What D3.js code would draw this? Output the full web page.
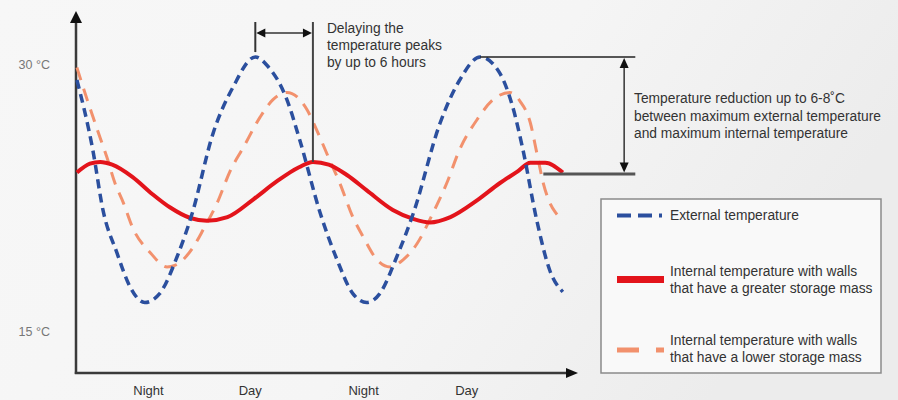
<!DOCTYPE html>
<html><head><meta charset="utf-8">
<script src="https://cdn.jsdelivr.net/npm/d3@7"></script>
<style>html,body{margin:0;padding:0;background:#f4f4f4;} svg{display:block;}</style>
</head><body>
<svg id="chart" width="898" height="400"></svg>
<script>
// ---------- data (hours on x, °C on y) ----------
const extHours = [0.1,1.8,2.9,4.4,5.8,7.4,9.0,10.9,12.5,14.75,16.9,19.3,20.6,22.7,24.1,26.3,28.1,29.8,31.3,32.7,34.55,36.3,39.2,41.3,43.5,45.6,47.0,48.1,49.6,51.0,52.4];
const extTemp  = [29.1,25.2,21.8,19.4,17.5,16.6,17.1,19.2,21.6,26.1,28.7,30.4,29.9,28.0,25.7,21.6,19.0,17.1,16.6,17.1,19.2,21.6,26.7,29.1,30.4,29.5,27.6,25.2,21.2,18.4,17.2];

const highMassHours = [0.1,1.5,2.6,3.9,6.1,8.2,10.1,12.3,14.1,16.3,19.1,21.6,24.0,25.5,27.2,29.2,31.3,34.1,36.3,38.1,40.3,43.2,45.6,47.5,48.9,50.5,52.4];
const highMassTemp  = [23.9,24.4,24.5,24.35,23.65,22.7,21.95,21.35,21.2,21.4,22.4,23.4,24.2,24.5,24.35,23.75,22.9,21.8,21.3,21.1,21.4,22.35,23.3,23.95,24.45,24.45,23.9];

const lowMassHours = [0.1,1.2,2.3,3.3,4.2,5.1,6.1,8.0,9.8,10.7,12.6,13.7,15.2,16.6,18.0,19.8,21.2,22.7,23.8,24.9,25.9,27.3,28.4,29.8,30.9,32.4,33.8,35.2,36.7,38.4,39.9,41.3,43.2,44.9,46.7,47.8,48.9,49.6,50.3,51.0,51.7,52.4];
const lowMassTemp  = [29.8,28.0,26.3,24.8,23.3,22.2,20.8,19.4,18.6,18.7,19.7,20.7,22.2,24.0,25.3,27.0,28.0,28.4,28.15,27.4,26.3,24.6,23.3,21.4,20.3,19.0,18.6,19.0,19.9,21.6,23.3,25.2,26.9,28.0,28.4,27.9,26.7,25.0,23.3,22.2,21.6,21.2];

const yTickValues = [15, 30];
const xTickHours  = [7.75, 18.7, 30.9, 42.0];
const xTickLabels = ["Night", "Day", "Night", "Day"];

const legendLabels = [
  ["External temperature"],
  ["Internal temperature with walls", "that have a greater storage mass"],
  ["Internal temperature with walls", "that have a lower storage mass"]
];
const noteDelay = ["Delaying the", "temperature peaks", "by up to 6 hours"];
const noteReduction = ["Temperature reduction up to 6-8˚C", "between maximum external temperature", "and maximum internal temperature"];

// ---------- setup ----------
const W = 898, H = 400;
const FONT = "'Liberation Sans', Arial, sans-serif";
const svg = d3.select("#chart");

const defs = svg.append("defs");
const bg = defs.append("linearGradient").attr("id","bg").attr("x1","0").attr("y1","0").attr("x2","1").attr("y2","0.3");
bg.append("stop").attr("offset","0").attr("stop-color","#f7f7f7");
bg.append("stop").attr("offset","0.6").attr("stop-color","#f5f5f5");
bg.append("stop").attr("offset","1").attr("stop-color","#ececec");
svg.append("rect").attr("width",W).attr("height",H).attr("fill","url(#bg)");

const axisX0 = 76, axisY0 = 373;
const x = d3.scaleLinear().domain([0, 54]).range([76, 577.7]);
const y = d3.scaleLinear().domain([15, 30]).range([331, 64]);

const axisColor = "#3a3a3a";

function arrowHead(g, tipX, tipY, dir, len, half, color) {
  let pts;
  if (dir === "up")    pts = [[tipX, tipY],[tipX-half, tipY+len],[tipX+half, tipY+len]];
  if (dir === "down")  pts = [[tipX, tipY],[tipX-half, tipY-len],[tipX+half, tipY-len]];
  if (dir === "left")  pts = [[tipX, tipY],[tipX+len, tipY-half],[tipX+len, tipY+half]];
  if (dir === "right") pts = [[tipX, tipY],[tipX-len, tipY-half],[tipX-len, tipY+half]];
  g.append("path").attr("d", "M" + pts.map(p => p.join(",")).join("L") + "Z").attr("fill", color);
}

const axes = svg.append("g");
axes.append("line").attr("x1",axisX0).attr("y1",axisY0+1).attr("x2",axisX0).attr("y2",20)
  .attr("stroke",axisColor).attr("stroke-width",2.5);
arrowHead(axes, axisX0, 11, "up", 12, 6, "#111");
axes.append("line").attr("x1",axisX0-1.2).attr("y1",axisY0).attr("x2",568).attr("y2",axisY0)
  .attr("stroke",axisColor).attr("stroke-width",2.5);
arrowHead(axes, 578, axisY0, "right", 12, 5, "#111");

// y tick labels
const yAxis = d3.axisLeft(y).tickValues(yTickValues).tickSize(0).tickPadding(26).tickFormat(d => d + " °C");
const gy = svg.append("g").attr("transform", `translate(${axisX0},0)`).call(yAxis);
gy.select(".domain").remove();
gy.selectAll("text").attr("font-family", FONT).attr("font-size", 12.5).attr("fill", "#777");

// x tick labels
const xAxis = d3.axisBottom(x).tickValues(xTickHours).tickSize(0).tickPadding(13).tickFormat((d,i) => xTickLabels[i]);
const gx = svg.append("g").attr("transform", `translate(0,${axisY0})`).call(xAxis);
gx.select(".domain").remove();
gx.selectAll("text").attr("font-family", FONT).attr("font-size", 13).attr("fill", "#333");

// ---------- series ----------
const line = d3.line().x(d => x(d[0])).y(d => y(d[1])).curve(d3.curveMonotoneX);
const zip = (a, b) => a.map((v, i) => [v, b[i]]);

const COL_EXT = "#2b4f9e", COL_HIGH = "#e3141b", COL_LOW = "#f2916d";

svg.append("path").datum(zip(lowMassHours, lowMassTemp)).attr("d", line)
  .attr("fill","none").attr("stroke",COL_LOW).attr("stroke-width",3).attr("stroke-dasharray","13,9");
svg.append("path").datum(zip(highMassHours, highMassTemp)).attr("d", line)
  .attr("fill","none").attr("stroke",COL_HIGH).attr("stroke-width",4);
svg.append("path").datum(zip(extHours, extTemp)).attr("d", line)
  .attr("fill","none").attr("stroke",COL_EXT).attr("stroke-width",3.5).attr("stroke-dasharray","9,5.5");

// ---------- annotations ----------
const ann = svg.append("g");
const annColor = "#333";
const firstPeakIdx = d3.maxIndex(extTemp.slice(0, 16));
const secondPeakIdx = 16 + d3.maxIndex(extTemp.slice(16));
const redPeakIdx = 8 + d3.maxIndex(highMassTemp.slice(8, 18));
const xp1 = x(extHours[firstPeakIdx]);
const xr  = x(highMassHours[redPeakIdx]);
const yTop = y(32.36), yArr = y(31.74), yTickBot = y(30.67);

ann.append("line").attr("x1",xp1).attr("x2",xp1).attr("y1",yTop).attr("y2",yTickBot).attr("stroke",annColor).attr("stroke-width",2);
ann.append("line").attr("x1",xr).attr("x2",xr).attr("y1",yTop).attr("y2",y(highMassTemp[redPeakIdx])).attr("stroke","#444").attr("stroke-width",2);
ann.append("line").attr("x1",xp1+8).attr("x2",xr-8).attr("y1",yArr).attr("y2",yArr).attr("stroke",annColor).attr("stroke-width",1.5);
arrowHead(ann, xp1+1, yArr, "left", 9, 4.5, "#111");
arrowHead(ann, xr-1, yArr, "right", 9, 4.5, "#111");

const t1 = ann.append("text").attr("font-family",FONT).attr("font-size",13.8).attr("fill","#333");
noteDelay.forEach((s,i) => t1.append("tspan").attr("x", xr + 14).attr("y", 33 + i*17).text(s));

const xp2 = x(extHours[secondPeakIdx]);
const yPk2 = y(extTemp[secondPeakIdx]);
const xRight = x(60.2), xArr2 = x(59.0), xLowStart = x(50.3), yLow = y(23.82);
ann.append("line").attr("x1",xp2).attr("x2",xRight).attr("y1",yPk2).attr("y2",yPk2).attr("stroke","#222").attr("stroke-width",1.5);
ann.append("line").attr("x1",xLowStart).attr("x2",xRight).attr("y1",yLow).attr("y2",yLow).attr("stroke","#555").attr("stroke-width",3);
ann.append("line").attr("x1",xArr2).attr("x2",xArr2).attr("y1",yPk2+8).attr("y2",yLow-8).attr("stroke",annColor).attr("stroke-width",1.5);
arrowHead(ann, xArr2, yPk2+1, "up", 10, 4.5, "#111");
arrowHead(ann, xArr2, yLow-1.5, "down", 10, 4.5, "#111");

const t2 = ann.append("text").attr("font-family",FONT).attr("font-size",13.8).attr("fill","#333");
noteReduction.forEach((s,i) => t2.append("tspan").attr("x", 634).attr("y", 103 + i*17.5).text(s));

// ---------- legend ----------
const lg = svg.append("g");
lg.append("rect").attr("x",601).attr("y",199).attr("width",280).attr("height",174)
  .attr("fill","#f9f9f9").attr("stroke","#8a8a8a").attr("stroke-width",1.5);

const sampleY = [215.5, 279.5, 350];
lg.append("line").attr("x1",617).attr("x2",663).attr("y1",sampleY[0]).attr("y2",sampleY[0])
  .attr("stroke",COL_EXT).attr("stroke-width",4).attr("stroke-dasharray","14,7,14,7,3,10");
lg.append("line").attr("x1",617).attr("x2",664).attr("y1",sampleY[1]).attr("y2",sampleY[1])
  .attr("stroke",COL_HIGH).attr("stroke-width",7);
lg.append("line").attr("x1",617).attr("x2",664).attr("y1",sampleY[2]).attr("y2",sampleY[2])
  .attr("stroke",COL_LOW).attr("stroke-width",5).attr("stroke-dasharray","22,17,8,20");

const textY = [[220],[276,293],[345,362]];
legendLabels.forEach((lines, k) => {
  const t = lg.append("text").attr("font-family",FONT).attr("font-size",13.8).attr("fill","#333");
  lines.forEach((s,i) => t.append("tspan").attr("x",670).attr("y",textY[k][i]).text(s));
});
</script>
</body></html>
